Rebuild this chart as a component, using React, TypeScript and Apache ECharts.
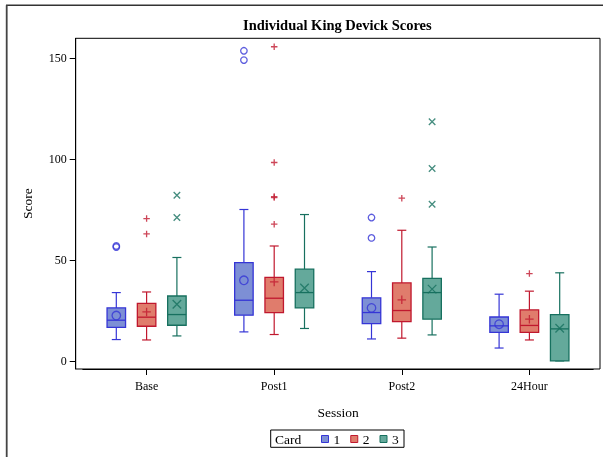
import React, { useEffect, useRef } from "react";
import * as echarts from "echarts";

const SERIF = '"Liberation Serif", "Times New Roman", serif';

const categories = ["Base", "Post1", "Post2", "24Hour"];
const yTicks = [0, 50, 100, 150];
const cards = ["1", "2", "3"];

// [whiskerLow, Q1, median, Q3, whiskerHigh] per session
const card1Box = [
  [10.6, 16.6, 20.2, 26.3, 33.9],
  [14.4, 22.7, 30.1, 48.8, 75.1],
  [10.9, 18.5, 24.0, 31.3, 44.3],
  [6.4, 14.2, 17.4, 21.8, 33.1],
];
const card2Box = [
  [10.4, 17.2, 21.7, 28.5, 34.2],
  [13.1, 24.0, 31.1, 41.4, 57.0],
  [11.3, 19.5, 25.0, 38.7, 64.8],
  [10.4, 14.2, 17.6, 25.3, 34.6],
];
const card3Box = [
  [12.4, 17.7, 23.0, 32.2, 51.3],
  [16.1, 26.3, 33.9, 45.5, 72.6],
  [12.9, 20.7, 33.9, 40.9, 56.5],
  [0, 0, 15.9, 23.0, 43.7],
];

const card1Mean = [22.5, 40.0, 26.3, 18.2];
const card2Mean = [24.3, 39.2, 30.3, 20.7];
const card3Mean = [28.1, 36.2, 35.6, 16.2];

// [session index, value]
const card1Outliers = [
  [0, 56.5], [0, 57.0], [1, 153.8], [1, 149.2], [2, 71.1], [2, 61.0],
];
const card2Outliers = [
  [0, 70.6], [0, 63.0], [1, 155.8], [1, 98.4], [1, 81.5], [1, 81.0], [1, 67.8], [2, 80.7], [3, 43.3],
];
const card3Outliers = [
  [0, 82.2], [0, 71.1], [2, 118.6], [2, 95.4], [2, 77.7],
];

const STYLES = [
  { stroke: "#3535D6", fill: "#7D8FD5", offset: -30.3, symbol: "circle" },
  { stroke: "#C0182E", fill: "#E07C6C", offset: 0, symbol: "path://M0,5L10,5M5,0L5,10" },
  { stroke: "#17705F", fill: "#64A99B", offset: 30.3, symbol: "path://M0,0L10,10M0,10L10,0" },
];

function makeRender(offset: number, stroke: string, fill: string) {
  return (params: any, api: any) => {
    const ci = api.value(0);
    const pts = [1, 2, 3, 4, 5].map((d) => api.coord([ci, api.value(d)]));
    const x = pts[0][0] + offset;
    const [yLo, yQ1, yMed, yQ3, yHi] = pts.map((p: number[]) => p[1]);
    const hw = 9.25;
    const cw = 4.5;
    const ls = { stroke, lineWidth: 1.2 };
    return {
      type: "group",
      children: [
        { type: "line", shape: { x1: x, y1: yQ3, x2: x, y2: yHi }, style: ls },
        { type: "line", shape: { x1: x, y1: yQ1, x2: x, y2: yLo }, style: ls },
        { type: "line", shape: { x1: x - cw, y1: yHi, x2: x + cw, y2: yHi }, style: ls },
        { type: "line", shape: { x1: x - cw, y1: yLo, x2: x + cw, y2: yLo }, style: ls },
        {
          type: "rect",
          shape: { x: x - hw, y: yQ3, width: 2 * hw, height: yQ1 - yQ3 },
          style: { fill, stroke, lineWidth: 1.3 },
        },
        { type: "line", shape: { x1: x - hw, y1: yMed, x2: x + hw, y2: yMed }, style: { stroke, lineWidth: 1.3 } },
      ],
    };
  };
}

export default function App() {
  const ref = useRef<HTMLDivElement>(null);
  useEffect(() => {
    if (!ref.current) return;
    const chart = echarts.init(ref.current, undefined, { renderer: "svg" });
    const boxes = [card1Box, card2Box, card3Box];
    const means = [card1Mean, card2Mean, card3Mean];
    const outliers = [card1Outliers, card2Outliers, card3Outliers];

    const series: any[] = [];
    cards.forEach((name, i) => {
      const s = STYLES[i];
      series.push({
        type: "custom",
        name,
        renderItem: makeRender(s.offset, s.stroke, s.fill),
        itemStyle: { color: s.fill, borderColor: s.stroke },
        encode: { x: 0, y: [1, 2, 3, 4, 5] },
        data: boxes[i].map((b, k) => [k, ...b]),
        z: 2,
      });
      const symStyle = { color: "rgba(0,0,0,0)", borderColor: s.stroke, borderWidth: 1.3 };
      series.push({
        type: "scatter",
        name: "mean" + name,
        symbol: s.symbol,
        symbolSize: 8.5,
        symbolOffset: [s.offset, 0],
        itemStyle: symStyle,
        data: means[i].map((v, k) => [k, v]),
        z: 4,
      });
      series.push({
        type: "scatter",
        name: "out" + name,
        symbol: s.symbol,
        symbolSize: 6.5,
        symbolOffset: [s.offset, 0],
        itemStyle: symStyle,
        data: outliers[i],
        z: 4,
      });
    });

    chart.setOption({
      animation: false,
      textStyle: { fontFamily: SERIF, color: "#000" },
      title: {
        text: "Individual King Devick Scores",
        left: 243,
        top: 17,
        padding: 0,
        textStyle: { fontSize: 14.5, fontWeight: "bold", fontFamily: SERIF, color: "#000" },
      },
      grid: { left: 82.8, right: 12.8, top: 38.3, bottom: 88 },
      xAxis: {
        type: "category",
        data: categories,
        boundaryGap: true,
        name: "Session",
        nameLocation: "middle",
        nameGap: 36,
        nameTextStyle: { fontSize: 13.5, fontFamily: SERIF, color: "#000" },
        axisLine: { show: true, onZero: false, lineStyle: { color: "#000", width: 1 } },
        axisTick: { show: true, alignWithLabel: true, length: 6, lineStyle: { color: "#000" } },
        axisLabel: { fontSize: 12, fontFamily: SERIF, color: "#000", margin: 11 },
        splitLine: { show: false },
      },
      yAxis: {
        type: "value",
        min: -4,
        max: 160,
        offset: 7.1,
        name: "Score",
        nameLocation: "middle",
        nameRotate: 90,
        nameGap: 41,
        nameTextStyle: { fontSize: 13.5, fontFamily: SERIF, color: "#000" },
        axisLine: { show: true, lineStyle: { color: "#000", width: 1 } },
        axisTick: { show: true, length: 6, lineStyle: { color: "#000" }, customValues: yTicks },
        axisLabel: { fontSize: 12, fontFamily: SERIF, color: "#000", margin: 9, customValues: yTicks },
        splitLine: { show: false },
      },
      legend: {
        data: cards.map((c, i) => ({
          name: c,
          itemStyle: { color: STYLES[i].fill, borderColor: STYLES[i].stroke, borderWidth: 1 },
        })),
        left: 321,
        top: 432,
        itemWidth: 7,
        itemHeight: 7,
        itemGap: 10,
        padding: 0,
        icon: "rect",
        selectedMode: false,
        textStyle: { fontSize: 13.5, fontFamily: SERIF, color: "#000" },
      },
      graphic: [
        { type: "line", shape: { x1: 6, y1: 5.3, x2: 603, y2: 5.3 }, style: { stroke: "#333", lineWidth: 1.5 } },
        { type: "line", shape: { x1: 6.7, y1: 5.3, x2: 6.7, y2: 457 }, style: { stroke: "#444", lineWidth: 1.8 } },
        {
          type: "rect",
          shape: { x: 75.7, y: 38.3, width: 524.3, height: 330.7 },
          style: { fill: "none", stroke: "#000", lineWidth: 1 },
          z: 10,
        },
        {
          type: "rect",
          shape: { x: 270.7, y: 430, width: 133.3, height: 17.3 },
          style: { fill: "none", stroke: "#000", lineWidth: 1 },
        },
        {
          type: "text",
          x: 275,
          y: 439,
          style: { text: "Card", fontSize: 13.5, fontFamily: SERIF, fill: "#000", verticalAlign: "middle", align: "left" },
        },
      ],
      series,
    });
    return () => chart.dispose();
  }, []);
  return <div ref={ref} style={{ position: "fixed", left: 0, top: 0, width: 606, height: 457 }} />;
}
